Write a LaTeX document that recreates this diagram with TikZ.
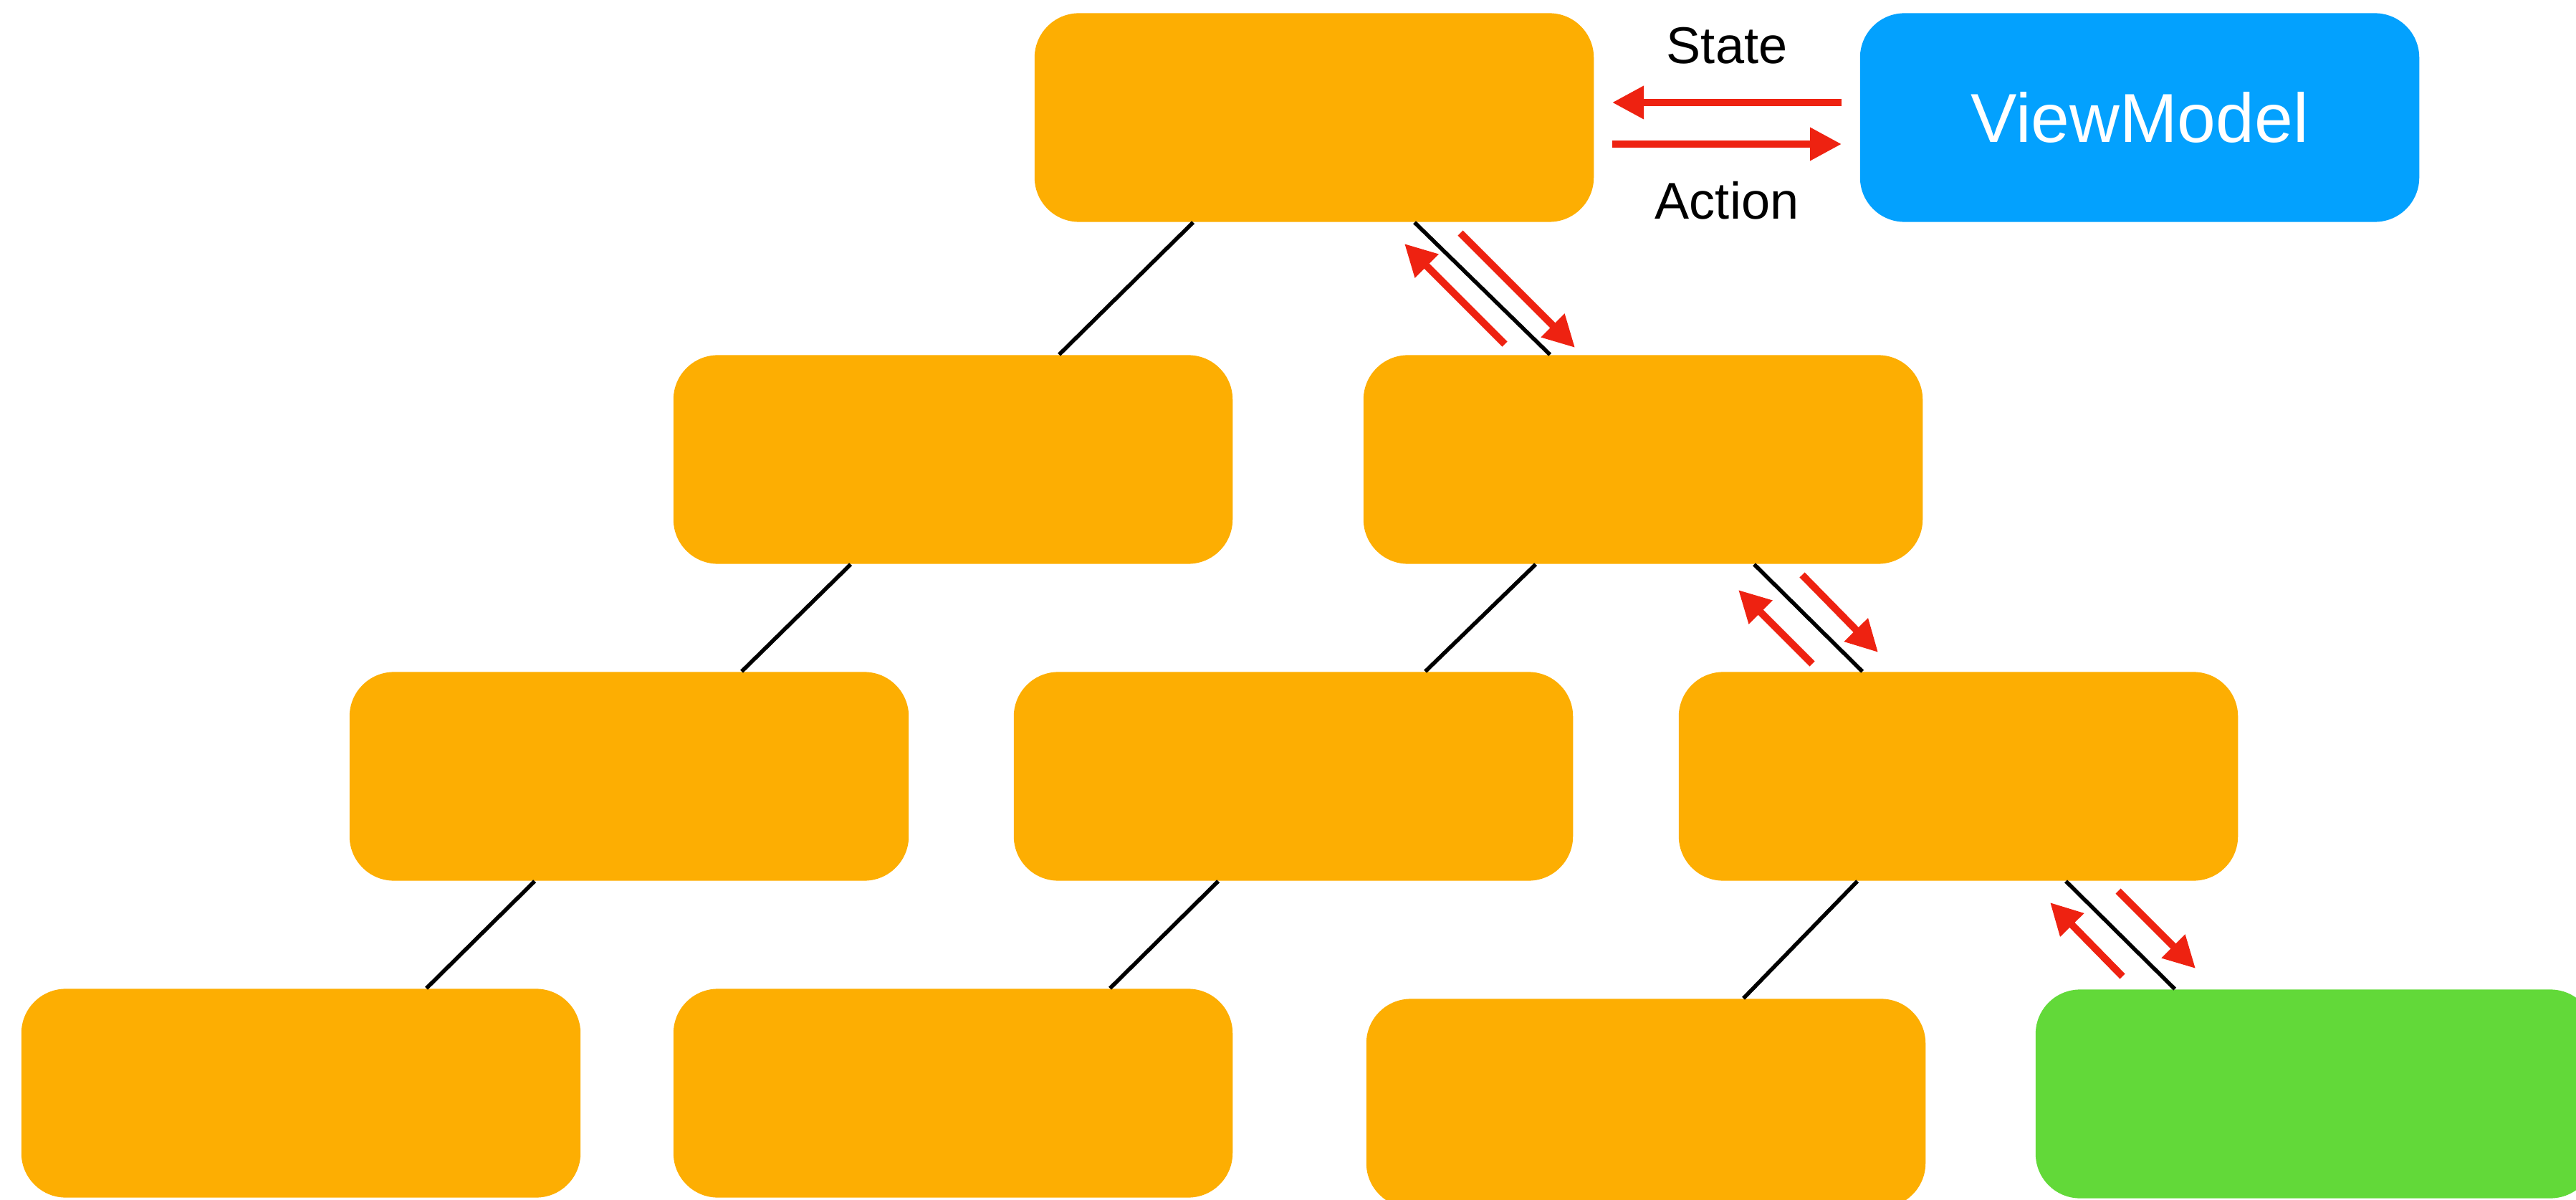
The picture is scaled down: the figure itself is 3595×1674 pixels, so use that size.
\documentclass[tikz,border=0pt]{standalone}
\usepackage{fontspec}
\setmainfont{Liberation Sans}
\usetikzlibrary{arrows.meta,calc}
\definecolor{boxorange}{HTML}{FDAE02}
\definecolor{boxblue}{HTML}{03A1FE}
\definecolor{boxgreen}{HTML}{62D939}
\definecolor{arrred}{HTML}{EE2211}
\tikzset{
  card/.style={minimum width=7.8cm, minimum height=2.91cm, inner sep=0pt, rounded corners=0.62cm, fill=boxorange},
  link/.style={draw=black, line width=0.055cm},
  flow/.style={draw=arrred, line width=0.1cm, -{Triangle[length=0.44cm,width=0.44cm]}},
  lbl/.style={font=\fontsize{20.5}{24}\selectfont, text=black, inner sep=0pt}
}
\begin{document}
\begin{tikzpicture}[x=0.01cm,y=-0.01cm]
\useasboundingbox (0,0) rectangle (3595,1674);
\clip (0,0) rectangle (3595,1674);
% nodes
\node[card] (root) at (1834,164) {};
\node[card, fill=boxblue, text=white, font=\fontsize{27.5}{32}\selectfont] (vm) at (2986,164) {ViewModel};
\node[card] (A) at (1330,641) {};
\node[card] (B) at (2293,641) {};
\node[card] (C) at (878,1083) {};
\node[card] (D) at (1805,1083) {};
\node[card] (E) at (2733,1083) {};
\node[card] (F) at (420,1525) {};
\node[card] (G) at (1330,1525) {};
\node[card] (H) at (2297,1539) {};
\node[card, fill=boxgreen] (I) at (3231,1526) {};
% tree connectors
\draw[link] ($(root.south west)+(222,0)$) -- ($(A.north west)+(539,0)$);
\draw[link] ($(root.south west)+(531,0)$) -- ($(B.north west)+(261,0)$);
\draw[link] ($(A.south west)+(248,0)$) -- ($(C.north west)+(548,0)$);
\draw[link] ($(B.south west)+(241,0)$) -- ($(D.north west)+(575,0)$);
\draw[link] ($(B.south west)+(546,0)$) -- ($(E.north west)+(257,0)$);
\draw[link] ($(C.south west)+(259,0)$) -- ($(F.north west)+(566,0)$);
\draw[link] ($(D.south west)+(286,0)$) -- ($(G.north west)+(610,0)$);
\draw[link] ($(E.south west)+(250,0)$) -- ($(H.north west)+(527,0)$);
\draw[link] ($(E.south west)+(541,0)$) -- ($(I.north west)+(195,0)$);
% state / action
\coordinate (s1) at (2570,143); \coordinate (s2) at (2250,143);
\coordinate (a1) at (2250,201); \coordinate (a2) at (2570,201);
\draw[flow] (s1) -- (s2);
\draw[flow] (a1) -- (a2);
\node[lbl] (state) at (2410,64) {State};
\node[lbl] (action) at (2410,280) {Action};
% red flow arrows along the path
\coordinate (u1a) at (2100,480); \coordinate (u1b) at (1960,340);
\coordinate (d1a) at (2038,325); \coordinate (d1b) at (2198,485);
\draw[flow] (u1a) -- (u1b);
\draw[flow] (d1a) -- (d1b);
\coordinate (u2a) at (2529,926); \coordinate (u2b) at (2426,823);
\coordinate (d2a) at (2515,802); \coordinate (d2b) at (2621,910);
\draw[flow] (u2a) -- (u2b);
\draw[flow] (d2a) -- (d2b);
\coordinate (u3a) at (2962,1362); \coordinate (u3b) at (2861,1259);
\coordinate (d3a) at (2956,1243); \coordinate (d3b) at (3064,1351);
\draw[flow] (u3a) -- (u3b);
\draw[flow] (d3a) -- (d3b);
\end{tikzpicture}
\end{document}
